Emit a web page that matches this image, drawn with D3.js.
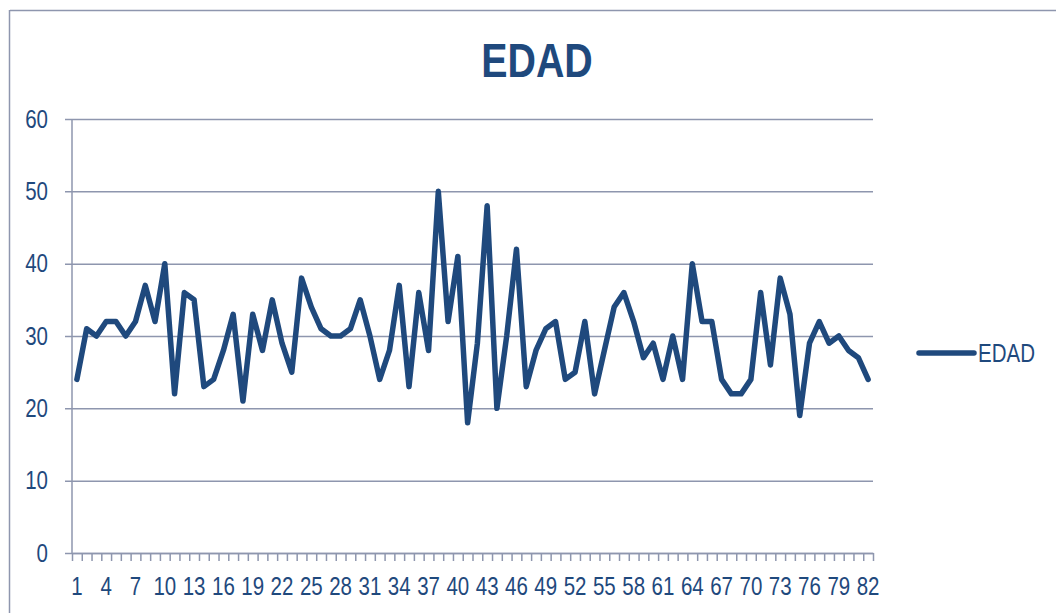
<!DOCTYPE html>
<html>
<head>
<meta charset="utf-8">
<script src="https://cdn.jsdelivr.net/npm/d3@7"></script>
<style>
  body { margin: 0; background: #fff; }
  text { font-family: "Liberation Sans", Arial, sans-serif; }
</style>
</head>
<body>
<div id="chart"></div>
<script>
// Data
const seriesName = "EDAD"
const categories = d3.range(1, 83)
const edad = [
  24, 31, 30, 32, 32, 30, 32, 37, 32, 40,
  22, 36, 35, 23, 24, 28, 33, 21, 33, 28,
  35, 29, 25, 38, 34, 31, 30, 30, 31, 35,
  30, 24, 28, 37, 23, 36, 28, 50, 32, 41,
  18, 29, 48, 20, 30, 42, 23, 28, 31, 32,
  24, 25, 32, 22, 28, 34, 36, 32, 27, 29,
  24, 30, 24, 40, 32, 32, 24, 22, 22, 24,
  36, 26, 38, 33, 19, 29, 32, 29, 30, 28,
  27, 24
]
const yTicks = [0, 10, 20, 30, 40, 50, 60]
const xLabels = categories.filter((d) => (d - 1) % 3 === 0)

const W = 1056, H = 613
const margin = { top: 119, bottom: 60, left: 72, right: 183 }
const width = W - margin.left - margin.right
const height = H - margin.top - margin.bottom

const blue = "#1F497D"
const grid = "#8E96AE"
const narrow = 0.82 // no narrow font installed, squeeze text horizontally

const svg = d3.select("#chart").append("svg")
  .attr("width", W)
  .attr("height", H)

// outer chart border (only top and left visible in crop)
svg.append("line").attr("x1", 10).attr("x2", W).attr("y1", 10.5).attr("y2", 10.5)
  .attr("stroke", grid).attr("stroke-width", 1.5)
svg.append("line").attr("x1", 9.5).attr("x2", 9.5).attr("y1", 10).attr("y2", H)
  .attr("stroke", grid).attr("stroke-width", 1.5)

// title
svg.append("g").attr("transform", "translate(537,77)")
  .append("text")
  .attr("transform", `scale(${narrow},1)`)
  .attr("text-anchor", "middle")
  .attr("font-size", 48)
  .attr("font-weight", "bold")
  .attr("fill", blue)
  .text(seriesName)

const g = svg.append("g").attr("transform", `translate(${margin.left},${margin.top})`)

// scales
const x = d3.scaleBand().domain(categories).range([0, width])
const xEdge = d3.scaleLinear().domain([0, categories.length]).range([0, width])
const y = d3.scaleLinear().domain([0, 60]).range([height, 0])

// horizontal gridlines + y labels
const yaxis = d3.axisLeft(y).tickValues(yTicks).tickSize(0).tickSizeOuter(0)
const g_y = g.append("g").call(yaxis)
g_y.select(".domain").remove()
g_y.selectAll(".tick line").attr("stroke", grid).attr("stroke-width", 1.5).attr("x1", -7).attr("x2", width)
g_y.selectAll(".tick text")
  .attr("x", -24 / narrow)
  .attr("transform", `scale(${narrow},1)`)
  .attr("fill", blue).attr("font-size", 25)
  .style("font-family", '"Liberation Sans", Arial, sans-serif')

// vertical axis line
g.append("line").attr("x1", 0).attr("x2", 0).attr("y1", 0).attr("y2", height)
  .attr("stroke", grid).attr("stroke-width", 1.5)

// category boundary ticks
const xTickAxis = d3.axisBottom(xEdge).tickValues(d3.range(0, categories.length + 1))
  .tickSize(8).tickFormat("").tickSizeOuter(0)
const g_xt = g.append("g").attr("transform", `translate(0,${height})`).call(xTickAxis)
g_xt.select(".domain").attr("stroke", grid).attr("stroke-width", 1.5)
g_xt.selectAll(".tick line").attr("stroke", grid).attr("stroke-width", 1.5)

// category labels
const xaxis = d3.axisBottom(x).tickValues(xLabels).tickSize(0).tickPadding(24)
const g_x = g.append("g").attr("transform", `translate(0,${height})`).call(xaxis)
g_x.select(".domain").remove()
g_x.selectAll(".tick text")
  .attr("transform", `scale(${narrow},1)`)
  .attr("fill", blue).attr("font-size", 25)
  .style("font-family", '"Liberation Sans", Arial, sans-serif')

// series line
const line = d3.line()
  .x((d, i) => x(categories[i]) + x.bandwidth() / 2)
  .y((d) => y(d))
g.append("path")
  .datum(edad)
  .attr("d", line)
  .attr("fill", "none")
  .attr("stroke", blue)
  .attr("stroke-width", 5.5)
  .attr("stroke-linejoin", "round")
  .attr("stroke-linecap", "round")

// legend
const lg = svg.append("g").attr("transform", "translate(919,353)")
lg.append("line").attr("x1", 0).attr("x2", 55).attr("y1", 0).attr("y2", 0)
  .attr("stroke", blue).attr("stroke-width", 5.5).attr("stroke-linecap", "round")
lg.append("g").attr("transform", "translate(59,9)")
  .append("text")
  .attr("transform", `scale(${narrow},1)`)
  .attr("font-size", 25).attr("fill", blue)
  .text(seriesName)
</script>
</body>
</html>
